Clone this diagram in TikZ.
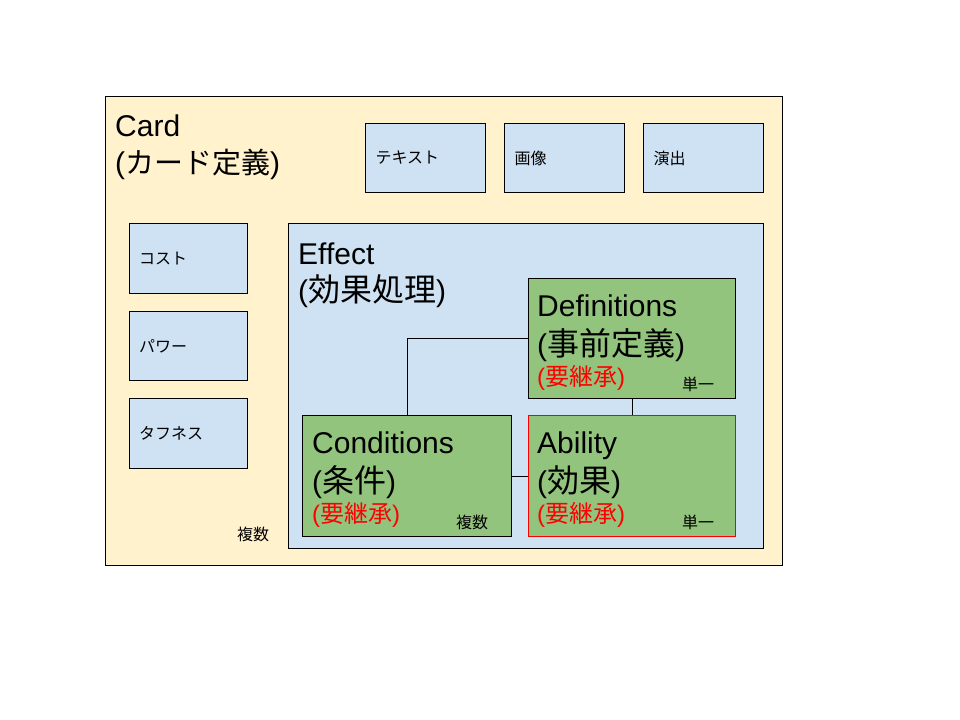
\documentclass[tikz,border=0pt]{standalone}
\usepackage{fontspec}
\setmainfont{Liberation Sans}
\newfontfamily\jp{Noto Sans CJK JP}
\definecolor{cardbg}{HTML}{FFF2CC}
\definecolor{partbg}{HTML}{CFE2F3}
\definecolor{effgreen}{HTML}{93C47D}
\definecolor{inherit}{HTML}{FF0000}
\newcommand{\bigtxt}{\fontsize{30bp}{36bp}\selectfont}
\newcommand{\midtxt}{\fontsize{24bp}{28bp}\selectfont}
\newcommand{\smalltxt}{\fontsize{16bp}{19bp}\selectfont}
\newcommand{\jpsub}[2]{{\fontsize{#1}{36bp}\selectfont\jp #2}}

\begin{document}
\begin{tikzpicture}[x=1bp, y=-1bp,
        box/.style={draw, line width=1bp, anchor=north west, inner sep=0pt},
        part/.style={box, fill=partbg, minimum height=69bp, inner xsep=10bp, text width=100bp, align=left, font=\smalltxt\jp},
        logic/.style={box, fill=effgreen},
        title/.style={anchor=base west, inner sep=0pt, font=\bigtxt},
        req/.style={anchor=base west, inner sep=0pt, font=\midtxt, text=inherit},
        count/.style={anchor=base west, inner sep=0pt, font=\smalltxt\jp}]
        \useasboundingbox (0,0) rectangle (960,720);
        % card frame
        \node[box, fill=cardbg, minimum width=677bp, minimum height=469bp] (card) at (105,96) {};
        \node[title] (cardname) at (115,137) {Card};
        \node[title] (cardsub) at (115,174) {(\jpsub{29bp}{カード定義})};
        \node[count] (cardcount) at (237,540) {複数};
        % parts
        \node[part] (text) at (365,123) {テキスト};
        \node[part] (image) at (504,123) {画像};
        \node[part] (stage) at (643,123) {演出};
        \node[part, minimum height=70bp, text width=99bp, inner xsep=9.5bp] (cost) at (129,223) {コスト};
        \node[part, text width=99bp, inner xsep=9.5bp] (power) at (129,311) {パワー};
        \node[part, minimum height=70bp, text width=99bp, inner xsep=9.5bp] (tough) at (129,398) {タフネス};
        % effect
        \node[box, fill=partbg, minimum width=475bp, minimum height=325bp] (effect) at (288,223) {};
        \node[title] (effname) at (298,264) {Effect};
        \node[title] (effsub) at (298,301) {(\jpsub{32bp}{効果処理})};
        \node[logic, minimum width=207bp, minimum height=120bp] (def) at (528,278) {};
        \node[logic, minimum width=209bp, minimum height=121bp] (cond) at (302,415) {};
        \node[logic, draw=inherit, minimum width=207bp, minimum height=121bp] (abil) at (528,415) {};
        \draw[line width=1bp] (cond.north) |- (def.west);
        \draw[line width=1bp] (def.south) -- (abil.north);
        \draw[line width=1bp] (cond.east) -- (abil.west);
        % definitions
        \node[title] (defname) at (537,316) {Definitions};
        \node[title] (defsub) at (537,355) {(\jpsub{32bp}{事前定義})};
        \node[req] (defreq) at (537,385) {(\jpsub{24bp}{要継承})};
        \node[count] (defcount) at (682,390) {単一};
        % conditions
        \node[title] (condname) at (312,453) {Conditions};
        \node[title] (condsub) at (312,492) {(\jpsub{32bp}{条件})};
        \node[req] (condreq) at (312,522) {(\jpsub{24bp}{要継承})};
        \node[count] (condcount) at (456,528) {複数};
        % ability
        \node[title] (abilname) at (537,453) {Ability};
        \node[title] (abilsub) at (537,492) {(\jpsub{32bp}{効果})};
        \node[req] (abilreq) at (537,522) {(\jpsub{24bp}{要継承})};
        \node[count] (abilcount) at (682,528) {単一};
    \end{tikzpicture}
\end{document}
